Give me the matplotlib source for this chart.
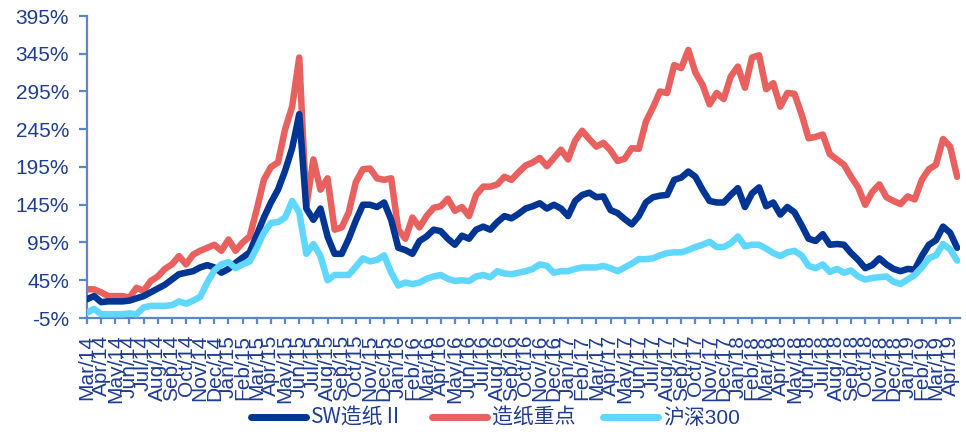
import matplotlib
matplotlib.use("Agg")
import matplotlib.pyplot as plt
import numpy as np
import pandas as pd

plt.rcParams['font.family'] = ['Liberation Sans', 'Noto Sans CJK SC', 'DejaVu Sans']

# cumulative return (%), sampled twice a month from Mar 2014 to mid Apr 2019
sw_paper = [20, 24, 16, 17, 17, 17, 18, 21, 24, 29, 34, 39, 46, 53, 55, 57,
            62, 65, 62, 55, 60, 68, 75, 82, 105, 128, 148, 165, 190, 220, 265, 140,
            125, 140, 103, 80, 80, 100, 124, 145, 145, 142, 148, 125, 88, 85,
            80, 97, 103, 112, 110, 100, 92, 104, 100, 112, 116, 112, 122, 130,
            127, 133, 140, 143, 147, 140, 145, 140, 130, 150, 158, 161, 155, 156,
            138, 134, 126, 119, 130, 148, 155, 157, 158, 178, 181, 189, 182, 165,
            150, 148, 148, 158, 167, 142, 160, 168, 143, 148, 132, 142, 135, 118,
            100, 97, 106, 92, 93, 92, 81, 72, 61, 65, 74, 66, 60, 57, 60, 59,
            77, 92, 98, 116, 108, 88]

paper_key = [33, 33, 29, 24, 24, 24, 22, 35, 31, 44, 50, 60, 66, 77, 66, 79,
             84, 88, 92, 84, 99, 84, 95, 103, 139, 178, 195, 201, 245, 275, 340, 143,
             205, 165, 180, 112, 115, 135, 175, 192, 193, 180, 178, 180, 112, 100,
             128, 115, 130, 141, 143, 153, 137, 142, 130, 158, 169, 169, 172, 182,
             178, 188, 197, 201, 207, 196, 207, 218, 205, 230, 243, 232, 222, 227,
             217, 203, 206, 220, 219, 255, 274, 295, 293, 330, 326, 350, 320, 304,
             278, 293, 285, 315, 328, 300, 340, 343, 298, 306, 275, 293, 292, 265,
             233, 235, 238, 212, 205, 198, 182, 168, 145, 162, 172, 155, 150, 146,
             156, 152, 178, 192, 198, 232, 222, 182]

hs300 = [2, 7, 0, 0, 0, 0, 1, 0, 9, 11, 11, 11, 12, 17, 14, 18,
         23, 42, 58, 66, 69, 61, 66, 70, 88, 108, 121, 122, 128, 150, 135, 80,
         93, 77, 45, 52, 52, 52, 63, 74, 70, 72, 78, 55, 38, 42,
         40, 42, 47, 50, 52, 47, 44, 45, 44, 50, 52, 49, 57, 54,
         53, 55, 57, 60, 66, 64, 55, 57, 57, 60, 62, 62, 62, 64,
         61, 57, 62, 67, 73, 73, 74, 78, 81, 82, 82, 85, 89, 92,
         96, 89, 89, 94, 103, 90, 92, 92, 87, 81, 77, 82, 84, 78,
         64, 61, 66, 56, 60, 55, 58, 50, 46, 48, 49, 50, 43, 40,
         46, 52, 62, 74, 78, 93, 86, 71]

series_names = ['SW造纸Ⅱ', '造纸重点', '沪深300']
series_colors = ['#003593', '#E8615F', '#60D7FF']

month_labels = pd.date_range('2014-03-01', '2019-04-01', freq='MS').strftime('%b/%y')
yticks = np.arange(-5, 396, 50)

text_color = '#1F3D8F'
axis_color = '#5B87C5'

x = np.arange(len(sw_paper)) * 0.5

fig = plt.figure(figsize=(9.66, 4.36), dpi=100)
ax = fig.add_axes([87 / 966, 118 / 436, 873 / 966, 302 / 436])

lines = {}
for name, vals, col, z in zip(series_names, [sw_paper, paper_key, hs300], series_colors, [3, 2, 4]):
    lines[name], = ax.plot(x, vals, color=col, lw=4.7, zorder=z,
                           solid_capstyle='round', solid_joinstyle='round', label=name)

ax.set_xlim(0, 61.7)
ax.set_ylim(-5, 395)
ax.set_yticks(yticks)
ax.set_yticklabels([f'{v}%' for v in yticks])
ax.set_xticks(np.arange(len(month_labels)))
ax.set_xticklabels(month_labels, rotation=90)

for side in ['top', 'right']:
    ax.spines[side].set_visible(False)
for side in ['left', 'bottom']:
    ax.spines[side].set_color(axis_color)
    ax.spines[side].set_linewidth(1.6)

ax.tick_params(axis='y', length=6, width=1.6, color=axis_color, labelcolor=text_color,
               labelsize=15, pad=7)
ax.tick_params(axis='x', length=4, width=1.6, color=axis_color, labelcolor=text_color,
               labelsize=15, pad=8)

leg = fig.legend([lines[n] for n in series_names], series_names,
                 loc='center', bbox_to_anchor=(0.513, 0.041), ncol=3, frameon=False,
                 fontsize=15, handlelength=2.65, handletextpad=0.25, columnspacing=1.3)
for t in leg.get_texts():
    t.set_color(text_color)
# full-width roman numeral comes from the CJK face
leg.get_texts()[0].set_fontfamily(['Noto Sans CJK SC'])
for h in leg.legend_handles:
    h.set_linewidth(5)

fig.savefig('out.png', dpi=100)
